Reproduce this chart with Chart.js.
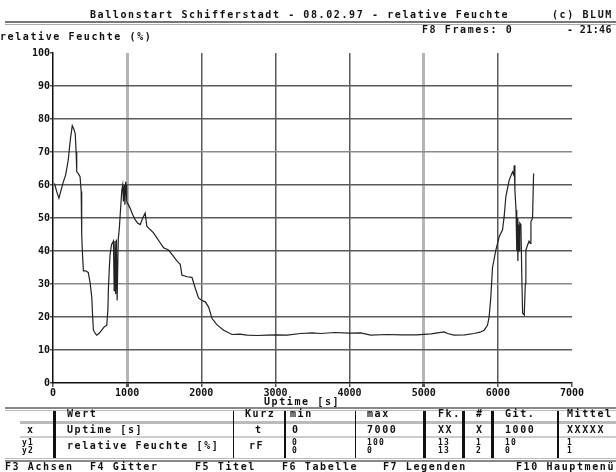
<!DOCTYPE html>
<html>
<head>
<meta charset="utf-8">
<script src="https://cdn.jsdelivr.net/npm/chart.js"></script>
<style>
  body { margin: 0; background: #fff; }
  #screen { position: relative; width: 616px; height: 472px; overflow: hidden; background: #fff; }
  #screen canvas { position: absolute; left: 0; top: 0; }
  .t { position: absolute; font: bold 10px "DejaVu Sans Mono", monospace; letter-spacing: 1.6px; line-height: 10px; white-space: pre; color: #111; }
  .s { font-size: 8px; line-height: 8px; letter-spacing: 1.2px; }
  .hl { position: absolute; }
  .vl { position: absolute; top: 411px; height: 47px; background: #111; }
</style>
</head>
<body>
<div id="screen">
  <canvas id="mycanvas" width="616" height="472"></canvas>

  <!-- header -->
  <div class="t" style="left:90px;top:10px">Ballonstart Schifferstadt - 08.02.97 - relative Feuchte</div>
  <div class="t" style="left:552px;top:10px">(c) BLUM</div>
  <div class="hl" style="left:5px;top:21px;width:611px;height:2px;background:#777"></div>
  <div class="hl" style="left:5px;top:24px;width:611px;height:1px;background:#aaa"></div>
  <div class="t" style="left:422px;top:25px">F8 Frames: 0</div>
  <div class="t" style="left:567px;top:25px;letter-spacing:0.4px">- 21:46</div>
  <div class="t" style="left:0px;top:32px">relative Feuchte (%)</div>
  <div class="t" style="left:264px;top:397px">Uptime [s]</div>

  <!-- table -->
  <div class="hl" style="left:5px;top:407px;width:611px;height:2px;background:#888"></div>
  <div class="hl" style="left:5px;top:410px;width:611px;height:1px;background:#bbb"></div>
  <div class="hl" style="left:20px;top:421px;width:596px;height:3px;background:#bbb"></div>
  <div class="hl" style="left:20px;top:436px;width:596px;height:2px;background:#ccc"></div>
  <div class="hl" style="left:5px;top:458px;width:611px;height:1px;background:#bbb"></div>
  <div class="hl" style="left:5px;top:460px;width:611px;height:2px;background:#888"></div>

  <div class="vl" style="left:53px;width:3px"></div>
  <div class="vl" style="left:233px;width:1px"></div>
  <div class="vl" style="left:284px;width:2px"></div>
  <div class="vl" style="left:355px;width:1px"></div>
  <div class="vl" style="left:423px;width:3px"></div>
  <div class="vl" style="left:462px;width:3px"></div>
  <div class="vl" style="left:491px;width:3px"></div>
  <div class="vl" style="left:557px;width:2px"></div>

  <div class="t" style="left:67px;top:409px">Wert</div>
  <div class="t" style="left:245px;top:409px">Kurz</div>
  <div class="t" style="left:290px;top:409px">min</div>
  <div class="t" style="left:367px;top:409px">max</div>
  <div class="t" style="left:438px;top:409px">Fk.</div>
  <div class="t" style="left:476px;top:409px">#</div>
  <div class="t" style="left:505px;top:409px">Git.</div>
  <div class="t" style="left:567px;top:409px">Mittel</div>

  <div class="t" style="left:27px;top:425px">x</div>
  <div class="t" style="left:67px;top:425px">Uptime [s]</div>
  <div class="t" style="left:255px;top:425px">t</div>
  <div class="t" style="left:292px;top:425px">0</div>
  <div class="t" style="left:367px;top:425px">7000</div>
  <div class="t" style="left:438px;top:425px">XX</div>
  <div class="t" style="left:476px;top:425px">X</div>
  <div class="t" style="left:505px;top:425px">1000</div>
  <div class="t" style="left:567px;top:425px">XXXXX</div>

  <div class="t s" style="left:22px;top:439px">y1<br>y2</div>
  <div class="t" style="left:67px;top:441px">relative Feuchte [%]</div>
  <div class="t" style="left:249px;top:441px">rF</div>
  <div class="t s" style="left:292px;top:439px">0<br>0</div>
  <div class="t s" style="left:367px;top:439px">100<br>0</div>
  <div class="t s" style="left:438px;top:439px">13<br>13</div>
  <div class="t s" style="left:476px;top:439px">1<br>2</div>
  <div class="t s" style="left:505px;top:439px">10<br>0</div>
  <div class="t s" style="left:567px;top:439px">1<br>1</div>

  <!-- function keys -->
  <div class="t" style="left:5px;top:462px">F3 Achsen</div>
  <div class="t" style="left:90px;top:462px">F4 Gitter</div>
  <div class="t" style="left:195px;top:462px">F5 Titel</div>
  <div class="t" style="left:282px;top:462px">F6 Tabelle</div>
  <div class="t" style="left:383px;top:462px">F7 Legenden</div>
  <div class="t" style="left:516px;top:462px">F10 Hauptmenü</div>
</div>

<script>
// uptime in seconds
var uptime = [20, 50, 80, 110, 140, 170, 205, 235, 260, 280, 300, 312, 320, 340, 365, 380, 387, 400, 410, 440,
  475, 500, 523, 535, 545, 570, 590, 620, 658, 690, 725, 740, 748, 760, 770, 790, 815, 825, 835, 845,
  855, 865, 872, 880, 895, 905, 928, 940, 950, 960, 970, 980, 986, 995, 1005, 1040, 1075, 1108, 1140, 1176,
  1210, 1243, 1266, 1310, 1356, 1401, 1445, 1491, 1559, 1604, 1671, 1716, 1739, 1806, 1874, 1919, 1964, 2010, 2054, 2099,
  2144, 2212, 2302, 2414, 2520, 2617, 2752, 2887, 3020, 3158, 3338, 3500, 3608, 3800, 4000, 4150, 4284, 4500, 4700, 4900,
  5100, 5274, 5320, 5410, 5550, 5680, 5760, 5815, 5860, 5882, 5905, 5928, 5973, 6018, 6063, 6085, 6108, 6153, 6198, 6215,
  6221, 6230, 6245, 6255, 6262, 6270, 6278, 6286, 6295, 6311, 6325, 6334, 6356, 6370, 6378, 6401, 6420, 6437, 6446, 6468,
  6482];
// relative humidity in %
var humidity = [60.5, 58, 56, 58.5, 61, 63, 67.5, 74, 78, 77, 75.5, 70, 64, 63.5, 62.5, 58, 45, 38, 34, 34,
  33.5, 30.5, 26, 20, 16, 15, 14.5, 15, 16, 17, 17.5, 22, 29, 35, 39, 42, 43, 28, 43, 27,
  43.5, 25, 25, 43.5, 47, 50.5, 58.5, 60, 55, 60, 54, 61, 60, 55, 54.5, 53, 51, 49.5, 48.5, 48,
  50, 51.5, 47.5, 46.5, 45.5, 44, 42.5, 41, 40.3, 39, 37, 36, 32.7, 32.2, 32, 28.7, 25.7, 25, 24.6, 23,
  19.6, 17.6, 16, 14.7, 14.8, 14.5, 14.4, 14.5, 14.6, 14.5, 15, 15.2, 15, 15.3, 15.1, 15.2, 14.5, 14.7, 14.6, 14.6,
  14.9, 15.5, 15, 14.5, 14.6, 15, 15.4, 16, 17.5, 20, 26, 35, 40.3, 44.3, 46.4, 50.4, 56.5, 61.5, 64, 63,
  66, 58.5, 52.4, 40, 50, 37, 48, 40, 48.5, 48, 30, 21.2, 20.6, 30, 40.3, 41.8, 43, 42.3, 48.9, 49.9,
  63.5];

var xTicks = [0, 1000, 2000, 3000, 4000, 5000, 6000, 7000];
var yTicks = [0, 10, 20, 30, 40, 50, 60, 70, 80, 90, 100];

var points = [];
for (var i in uptime) {
  points.push({ x: uptime[i], y: humidity[i] });
}

var tickFont = { family: "DejaVu Sans Mono", size: 10, weight: "bold" };

var ctx = document.getElementById("mycanvas");
var chart = new Chart(ctx, {
  type: "scatter",
  data: {
    datasets: [{
      data: points,
      showLine: true,
      borderColor: "#222",
      borderWidth: 1.2,
      pointRadius: 0,
      tension: 0
    }]
  },
  options: {
    responsive: false,
    animation: false,
    layout: { padding: { top: 53, right: 44, bottom: 0, left: 0 } },
    plugins: { legend: { display: false }, tooltip: { enabled: false } },
    scales: {
      x: {
        type: "linear",
        min: 0,
        max: 7000,
        afterBuildTicks: function (s) { s.ticks = xTicks.map(function (v) { return { value: v }; }); },
        afterFit: function (s) { s.height = 89; },
        ticks: { font: tickFont, color: "#111", padding: 0, maxRotation: 0, callback: function (v) { return String(v); } },
        grid: {
          tickLength: 4,
          lineWidth: function (c) { return (c.tick.value == 1000 || c.tick.value == 5000) ? 3 : 1.5; },
          color: function (c) {
            var v = c.tick.value;
            if (v == 0 || v == 7000) return "rgba(0,0,0,0)";// no grid line on the axes
            if (v == 1000 || v == 5000) return "#b4b4b4";
            return "#5a5a5a";
          },
          tickColor: "#555"
        },
        border: { color: "#111", width: 1.5 }
      },
      y: {
        min: 0,
        max: 100,
        afterBuildTicks: function (s) { s.ticks = yTicks.map(function (v) { return { value: v }; }); },
        afterFit: function (s) { s.width = 53; },
        ticks: { font: tickFont, color: "#111", padding: 0, callback: function (v) { return String(v); } },
        grid: {
          tickLength: 3,
          lineWidth: 1.5,
          color: function (c) {
            var v = c.tick.value;
            if (v == 0 || v == 100) return "rgba(0,0,0,0)";
            if (v == 70 || v == 30) return "#8a8a8a";
            return "#5a5a5a";
          },
          tickColor: "#555"
        },
        border: { color: "#111", width: 1.5 }
      }
    }
  }
});
</script>
</body>
</html>
